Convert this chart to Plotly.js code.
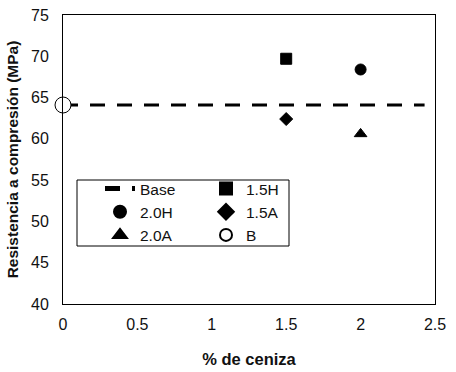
<!DOCTYPE html>
<html><head><meta charset="utf-8">
<script src="https://cdn.plot.ly/plotly-3.0.1.min.js"></script>
<style>html,body{margin:0;padding:0;background:#fff}#c{width:456px;height:372px}</style>
</head><body><div id="c"></div>
<script>
const baseX = [0, 2.43];
const baseY = [64.1, 64.1];
const names = ['1.5H', '2.0H', '1.5A', '2.0A', 'B'];
const xs = [1.5, 2.0, 1.5, 2.0, 0];
const ys = [69.7, 68.4, 62.4, 60.6, 64.1];
const symbols = ['square', 'circle', 'diamond', 'triangle-up', 'circle'];
const sizes = [11, 11, 10, 11, 16];
const fills = ['#000', '#000', '#000', '#000', '#fff'];
const legendCol = ['legend2', 'legend', 'legend2', 'legend', 'legend2'];

const traces = [{
  x: baseX, y: baseY, name: 'Base', mode: 'lines', type: 'scatter', legend: 'legend',
  line: {color: '#000', width: 3, dash: '15px,12px'}, cliponaxis: false
}];
names.forEach((n, i) => traces.push({
  x: [xs[i]], y: [ys[i]], name: n, mode: 'markers', type: 'scatter', cliponaxis: false,
  legend: legendCol[i],
  marker: {symbol: symbols[i], size: sizes[i], color: fills[i], line: {color: '#000', width: 1}}
}));

const F = 'Liberation Sans, Arial, sans-serif';
const legBase = {
  yanchor: 'top', xanchor: 'left', orientation: 'v', itemsizing: 'constant',
  bgcolor: 'rgba(0,0,0,0)', borderwidth: 0,
  font: {size: 15.5, color: '#111', family: F}, tracegroupgap: 0
};
const pxX = v => (v - 63) / 372;
const pxY = v => (304 - v) / 289;
const layout = {
  width: 456, height: 372,
  margin: {l: 63, r: 21, t: 15, b: 68},
  paper_bgcolor: '#fff', plot_bgcolor: '#fff',
  font: {family: F, size: 16, color: '#111'},
  showlegend: true,
  legend: Object.assign({}, legBase, {x: pxX(100), y: pxY(172)}),
  legend2: Object.assign({}, legBase, {x: pxX(206), y: pxY(172)}),
  shapes: [{
    type: 'rect', xref: 'paper', yref: 'paper', layer: 'below',
    x0: pxX(77), x1: pxX(289), y0: pxY(246), y1: pxY(180),
    line: {color: '#000', width: 1}, fillcolor: 'rgba(0,0,0,0)'
  }],
  xaxis: {
    range: [0, 2.5], dtick: 0.5, showgrid: false, zeroline: false,
    showline: true, mirror: true, linecolor: '#000', linewidth: 1,
    ticks: '', ticklen: 0, ticklabelstandoff: 6,
    title: {text: '% de ceniza', font: {size: 16.5, color: '#111', family: F, weight: 'bold'}, standoff: 21}
  },
  yaxis: {
    range: [40, 75], dtick: 5, showgrid: false, zeroline: false,
    showline: true, mirror: true, linecolor: '#000', linewidth: 1,
    ticks: '', ticklen: 0, ticklabelstandoff: 10,
    title: {text: 'Resistencia a compresión (MPa)', font: {size: 15.5, color: '#111', family: F, weight: 'bold'}, standoff: 8}
  }
};
Plotly.newPlot('c', traces, layout, {displayModeBar: false, staticPlot: true});
</script></body></html>
